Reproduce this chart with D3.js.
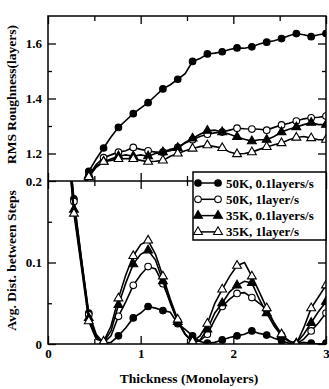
<!DOCTYPE html>
<html>
<head>
<meta charset="utf-8">
<title>RMS roughness and step distance</title>
<style>
  body { margin: 0; background: #fff; }
  svg { display: block; }
  .axis path { display: none; }
  .axis line { stroke: #000; stroke-width: 1.3; }
  .axis text { font-family: "Liberation Serif", "DejaVu Serif", serif; font-weight: bold; font-size: 13px; fill: #000; }
  .title { font-family: "Liberation Serif", "DejaVu Serif", serif; font-weight: bold; font-size: 13.5px; fill: #000; }
  .legend { font-family: "Liberation Serif", "DejaVu Serif", serif; font-weight: bold; font-size: 13px; fill: #000; }
</style>
</head>
<body>
<script src="https://cdnjs.cloudflare.com/ajax/libs/d3/7.8.5/d3.min.js"></script>
<script>
// thickness grid (monolayers)
var thickness = [0.20, 0.28, 0.36, 0.44, 0.52, 0.60, 0.68, 0.76, 0.84, 0.92, 1.00, 1.08,
                 1.16, 1.24, 1.32, 1.40, 1.48, 1.56, 1.64, 1.72, 1.80, 1.88, 1.96, 2.04,
                 2.12, 2.20, 2.28, 2.36, 2.44, 2.52, 2.60, 2.68, 2.76, 2.84, 2.92, 3.00];

var seriesLabels = ["50K, 0.1layers/s", "50K, 1layer/s", "35K, 0.1layers/s", "35K, 1layer/s"];

// RMS roughness (layers)
var rms50K01 = [0.85, 0.98, 1.06, 1.135, 1.18, 1.22, 1.26, 1.295, 1.32, 1.345, 1.365, 1.385,
                1.41, 1.435, 1.45, 1.47, 1.49, 1.535, 1.545, 1.562, 1.565, 1.57, 1.578, 1.584,
                1.583, 1.588, 1.598, 1.605, 1.61, 1.618, 1.628, 1.636, 1.632, 1.625, 1.632, 1.636];
var rms50K1  = [0.85, 0.95, 1.05, 1.12, 1.16, 1.185, 1.195, 1.205, 1.21, 1.222, 1.215, 1.21,
                1.205, 1.205, 1.215, 1.222, 1.238, 1.25, 1.262, 1.27, 1.275, 1.278, 1.285, 1.292,
                1.29, 1.289, 1.288, 1.285, 1.295, 1.304, 1.31, 1.318, 1.326, 1.33, 1.332, 1.336];
var rms35K01 = [0.85, 0.95, 1.05, 1.12, 1.155, 1.17, 1.18, 1.19, 1.195, 1.19, 1.195, 1.19,
                1.2, 1.205, 1.21, 1.22, 1.24, 1.255, 1.27, 1.283, 1.285, 1.278, 1.27, 1.26,
                1.252, 1.245, 1.25, 1.25, 1.262, 1.278, 1.288, 1.296, 1.305, 1.312, 1.305, 1.305];
var rms35K1  = [0.85, 0.95, 1.05, 1.115, 1.15, 1.17, 1.175, 1.18, 1.182, 1.18, 1.175, 1.17,
                1.172, 1.175, 1.19, 1.2, 1.21, 1.218, 1.225, 1.23, 1.225, 1.22, 1.205, 1.198,
                1.2, 1.205, 1.215, 1.224, 1.232, 1.238, 1.25, 1.258, 1.262, 1.256, 1.25, 1.25];

// average distance between steps
var dist50K01 = [0.27, 0.178, 0.105, 0.038, 0.012, 0.001, 0.002, 0.01, 0.02, 0.032, 0.038, 0.046,
                 0.044, 0.041, 0.039, 0.025, 0.018, 0.01, 0.003, 0.001, 0.002, 0.005, 0.008, 0.01,
                 0.012, 0.016, 0.013, 0.011, 0.007, 0.004, 0.001, 0.0, 0.002, 0.001, 0.0, 0.001];
var dist50K1  = [0.27, 0.175, 0.105, 0.036, 0.01, 0.001, 0.01, 0.034, 0.052, 0.072, 0.085, 0.095,
                 0.092, 0.074, 0.052, 0.028, 0.012, 0.002, 0.004, 0.012, 0.03, 0.046, 0.055, 0.062,
                 0.063, 0.057, 0.05, 0.042, 0.025, 0.011, 0.004, 0.0, 0.006, 0.016, 0.026, 0.038];
var dist35K01 = [0.26, 0.165, 0.098, 0.032, 0.008, 0.002, 0.016, 0.048, 0.075, 0.098, 0.11, 0.115,
                 0.103, 0.077, 0.05, 0.027, 0.012, 0.002, 0.005, 0.018, 0.038, 0.05, 0.064, 0.072,
                 0.077, 0.075, 0.055, 0.038, 0.022, 0.01, 0.003, 0.001, 0.012, 0.026, 0.04, 0.052];
var dist35K1  = [0.26, 0.16, 0.095, 0.028, 0.006, 0.003, 0.022, 0.056, 0.085, 0.108, 0.122, 0.127,
                 0.11, 0.083, 0.055, 0.03, 0.012, 0.003, 0.01, 0.025, 0.05, 0.067, 0.083, 0.096,
                 0.1, 0.083, 0.064, 0.044, 0.026, 0.012, 0.003, 0.0, 0.02, 0.044, 0.058, 0.072];

var xMajor = [0, 1, 2, 3];
var xMinor = [0.5, 1.5, 2.5];
var rmsMajor = [1.2, 1.4, 1.6];
var rmsMinor = [1.3, 1.5];
var distMajor = [0, 0.1, 0.2];
var distMinor = [0.05, 0.15];

var width = 329, height = 389;
var plotLeft = 48, plotRight = 326, plotTop = 16, plotMid = 181, plotBottom = 344;

var svg = d3.select("body").append("svg")
    .attr("width", width)
    .attr("height", height);

var x = d3.scaleLinear().domain([0, 3]).range([plotLeft, plotRight]);
var yTop = d3.scaleLinear().domain([1.1, 1.7]).range([plotMid, plotTop]);
var yBot = d3.scaleLinear().domain([0, 0.2]).range([plotBottom, plotMid]);

// marker styles: filled circle, open circle, filled triangle, open triangle
var markers = [
  {shape: "circle", fill: "#000"},
  {shape: "circle", fill: "#fff"},
  {shape: "triangle", fill: "#000"},
  {shape: "triangle", fill: "#fff"}
];

function drawMarker(g, cx, cy, m) {
  if (m.shape === "circle") {
    g.append("circle").attr("cx", cx).attr("cy", cy).attr("r", 3.3)
      .attr("fill", m.fill).attr("stroke", "#000").attr("stroke-width", 1.1);
  } else {
    g.append("path").attr("d", d3.symbol(d3.symbolTriangle, 34)())
      .attr("transform", "translate(" + cx + "," + cy + ")")
      .attr("fill", m.fill).attr("stroke", "#000").attr("stroke-width", 1.1);
  }
}

function panel(id, y, series, y0, y1) {
  svg.append("clipPath").attr("id", id)
    .append("rect").attr("x", plotLeft).attr("y", y1).attr("width", plotRight - plotLeft).attr("height", y0 - y1);
  var g = svg.append("g").attr("clip-path", "url(#" + id + ")");
  var line = d3.line().x(function(d) { return x(d[0]); }).y(function(d) { return y(d[1]); });
  series.forEach(function(vals, s) {
    var pts = thickness.map(function(t, i) { return [t, vals[i]]; });
    g.append("path").datum(pts).attr("d", line)
      .attr("fill", "none").attr("stroke", "#000").attr("stroke-width", 1.6);
    pts.forEach(function(p, i) {
      if (i % 2 === 1) drawMarker(g, x(p[0]), y(p[1]), markers[s]);
    });
  });
}

panel("clipTop", yTop, [rms50K01, rms50K1, rms35K01, rms35K1], plotMid, plotTop);
panel("clipBot", yBot, [dist50K01, dist50K1, dist35K01, dist35K1], plotBottom, plotMid);

// ticks (all pointing inward)
function xTicks(yPos, dir, labels) {
  svg.append("g").attr("class", "axis").attr("transform", "translate(0," + yPos + ")")
    .call(d3.axisBottom(x).tickValues(xMajor).tickSize(dir * 8).tickPadding(5)
      .tickFormat(labels ? d3.format("d") : ""));
  svg.append("g").attr("class", "axis").attr("transform", "translate(0," + yPos + ")")
    .call(d3.axisBottom(x).tickValues(xMinor).tickSize(dir * 5).tickFormat(""));
}
xTicks(plotTop, 1, false);
xTicks(plotMid, -1, false);
xTicks(plotMid, 1, false);
xTicks(plotBottom, -1, true);

function yTicks(y, major, minor, fmt) {
  svg.append("g").attr("class", "axis").attr("transform", "translate(" + plotLeft + ",0)")
    .call(d3.axisLeft(y).tickValues(major).tickSize(-8).tickPadding(6).tickFormat(fmt));
  svg.append("g").attr("class", "axis").attr("transform", "translate(" + plotLeft + ",0)")
    .call(d3.axisLeft(y).tickValues(minor).tickSize(-4).tickFormat(""));
  svg.append("g").attr("class", "axis").attr("transform", "translate(" + plotRight + ",0)")
    .call(d3.axisLeft(y).tickValues(major).tickSize(8).tickFormat(""));
  svg.append("g").attr("class", "axis").attr("transform", "translate(" + plotRight + ",0)")
    .call(d3.axisLeft(y).tickValues(minor).tickSize(4).tickFormat(""));
}
yTicks(yTop, rmsMajor, rmsMinor, d3.format(".1f"));
yTicks(yBot, distMajor, distMinor, function(d) { return d === 0 ? "0" : d3.format(".1f")(d); });

// frames
svg.append("rect").attr("x", plotLeft).attr("y", plotTop)
  .attr("width", plotRight - plotLeft).attr("height", plotBottom - plotTop)
  .attr("fill", "none").attr("stroke", "#000").attr("stroke-width", 1.5);
svg.append("line").attr("x1", plotLeft).attr("x2", plotRight).attr("y1", plotMid).attr("y2", plotMid)
  .attr("stroke", "#000").attr("stroke-width", 1.5);

// axis titles
svg.append("text").attr("class", "title")
  .attr("transform", "translate(16," + ((plotTop + plotMid) / 2 - 4) + ") rotate(-90)")
  .attr("text-anchor", "middle").text("RMS Roughness(layers)");
svg.append("text").attr("class", "title")
  .attr("transform", "translate(16," + ((plotMid + plotBottom) / 2 - 2) + ") rotate(-90)")
  .attr("text-anchor", "middle").text("Avg. Dist. between Steps");
svg.append("text").attr("class", "title")
  .attr("x", 189).attr("y", 383).attr("text-anchor", "middle").text("Thickness (Monolayers)");

// legend
var lg = svg.append("g");
lg.append("rect").attr("x", 193).attr("y", 172).attr("width", plotRight - 193).attr("height", 68)
  .attr("fill", "#fff").attr("stroke", "#000").attr("stroke-width", 1.5);
seriesLabels.forEach(function(name, i) {
  var yy = 183 + i * 16.3;
  lg.append("line").attr("x1", 198).attr("x2", 218).attr("y1", yy).attr("y2", yy)
    .attr("stroke", "#000").attr("stroke-width", 1.5);
  drawMarker(lg, 198, yy, markers[i]);
  drawMarker(lg, 218, yy, markers[i]);
  lg.append("text").attr("class", "legend").attr("x", 226).attr("y", yy + 4.5).text(name);
});
</script>
</body>
</html>
